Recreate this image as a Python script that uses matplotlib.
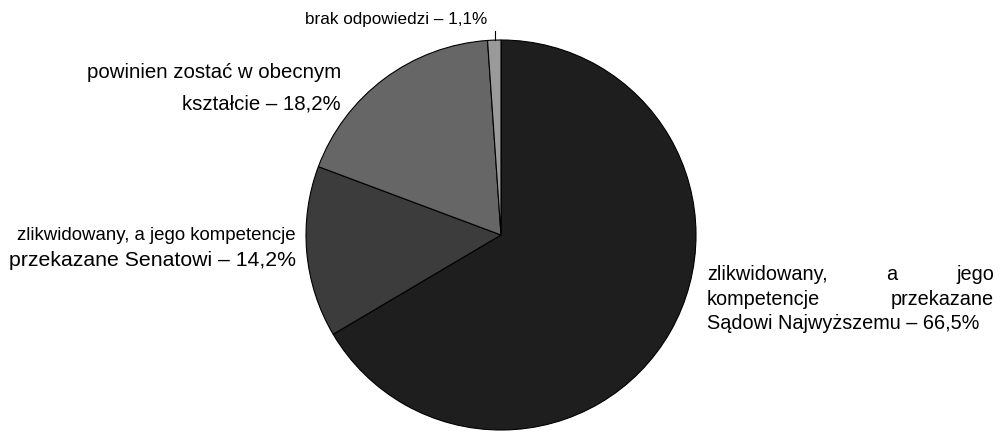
import matplotlib
matplotlib.use("Agg")
import matplotlib.pyplot as plt

plt.rcParams["font.family"] = ["Liberation Sans", "DejaVu Sans"]

# dane (udzialy w %), kolejnosc zgodnie z ruchem wskazowek zegara od gory
labels = ["zlikwidowany, a jego kompetencje przekazane Sądowi Najwyższemu",
          "zlikwidowany, a jego kompetencje przekazane Senatowi",
          "powinien zostać w obecnym kształcie",
          "brak odpowiedzi"]
shares = [66.5, 14.2, 18.2, 1.1]
colors = ["#1e1e1e", "#3c3c3c", "#666666", "#9a9a9a"]

W, H = 1004, 432
fig = plt.figure(figsize=(W / 100, H / 100), dpi=100)
ax = fig.add_axes([0, 0, 1, 1])


def Y(y):  # y liczone od gory obrazka
    return H - y


ax.pie(shares, colors=colors, startangle=90, counterclock=False,
       center=(501, Y(235)), radius=195, frame=True,
       wedgeprops=dict(edgecolor="black", linewidth=0.8))
ax.set_xlim(0, W); ax.set_ylim(0, H); ax.axis("off")
ax.set_aspect("equal")

# etykiety
ax.text(396, Y(24), "brak odpowiedzi – 1,1%", ha="center", va="baseline",
        fontsize=12.3)
ax.plot([495, 495], [Y(31), Y(40)], color="black", lw=0.8)

ax.text(341, Y(78), "powinien zostać w obecnym", ha="right", va="baseline",
        fontsize=14.7)
ax.text(341, Y(110), "kształcie – 18,2%", ha="right", va="baseline",
        fontsize=14.7)

ax.text(296, Y(240), "zlikwidowany, a jego kompetencje", ha="right",
        va="baseline", fontsize=13.4)
ax.text(296, Y(266), "przekazane Senatowi – 14,2%", ha="right",
        va="baseline", fontsize=15.3)

# tekst wyjustowany po prawej
fs = 14.3
ax.text(707, Y(280), "zlikwidowany,", ha="left", va="baseline", fontsize=fs)
ax.text(892, Y(280), "a", ha="center", va="baseline", fontsize=fs)
ax.text(994, Y(280), "jego", ha="right", va="baseline", fontsize=fs)
ax.text(707, Y(305), "kompetencje", ha="left", va="baseline", fontsize=fs)
ax.text(994, Y(305), "przekazane", ha="right", va="baseline", fontsize=fs)
ax.text(707, Y(329), "Sądowi Najwyższemu – 66,5%", ha="left",
        va="baseline", fontsize=fs)

fig.savefig("out.png", dpi=100)
